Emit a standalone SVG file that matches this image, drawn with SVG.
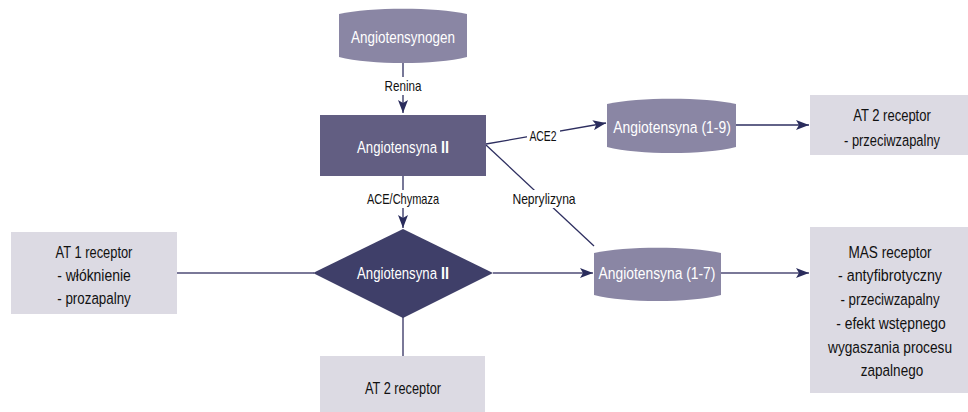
<svg xmlns="http://www.w3.org/2000/svg" width="968" height="412" viewBox="0 0 968 412">
<style>
text{font-family:"Liberation Sans",Arial,sans-serif;text-anchor:middle;}
.nl{fill:#ffffff;font-size:17px;}
.st{text-anchor:start;}
.b{font-weight:bold;}
.lb{fill:#111111;font-size:14.5px;}
.rt{fill:#111111;font-size:17px;}
.soft{fill:#8a86a4;}
.rect2{fill:#625e82;}
.dia{fill:#3f3f69;}
.rec{fill:#dcdae3;}
.dark{stroke:#2e2f60;stroke-width:1.3;fill:none;}
.grey{stroke:#7a7898;stroke-width:2;fill:none;}
.lbg{fill:#ffffff;}
</style>
<defs>
<marker id="ah" markerWidth="14" markerHeight="10" refX="13" refY="5" orient="auto" markerUnits="userSpaceOnUse">
<path d="M0,0 L13,5 L0,10 L3,5 Z" fill="#2a2c5c"/>
</marker>
</defs>
<g id="connectors">
<line class="dark" x1="403" y1="63" x2="403" y2="113" marker-end="url(#ah)"/>
<line class="dark" x1="403" y1="176" x2="403" y2="228" marker-end="url(#ah)"/>
<line class="dark" x1="486" y1="144" x2="606" y2="123" marker-end="url(#ah)"/>
<line class="dark" x1="486" y1="145" x2="594" y2="246"/>
<line class="dark" x1="736" y1="125" x2="809" y2="125" marker-end="url(#ah)"/>
<line class="grey" x1="177" y1="273" x2="314" y2="273"/>
<line class="grey" x1="493" y1="273" x2="593" y2="273" marker-end="url(#ah)"/>
<line class="grey" x1="721" y1="273" x2="809" y2="273" marker-end="url(#ah)"/>
<line class="grey" x1="403" y1="317" x2="403" y2="356"/>
<rect class="lbg" x="382" y="77" width="42" height="18"/>
<text class="lb" transform="translate(403,91) scale(0.8,1)" textLength="46" lengthAdjust="spacingAndGlyphs">Renina</text>
<rect class="lbg" x="527" y="127" width="33" height="18"/>
<text class="lb" transform="translate(543,141) scale(0.8,1)" textLength="34" lengthAdjust="spacingAndGlyphs">ACE2</text>
<rect class="lbg" x="364" y="190" width="78" height="18"/>
<text class="lb" transform="translate(403,204) scale(0.8,1)" textLength="90" lengthAdjust="spacingAndGlyphs">ACE/Chymaza</text>
<rect class="lbg" x="510" y="190" width="69" height="18"/>
<text class="lb" transform="translate(544,204) scale(0.8,1)" textLength="79" lengthAdjust="spacingAndGlyphs">Neprylizyna</text>
</g>
<g id="angiotensynogen">
<path class="soft" d="M339,14 C371,7 435,7 467,14 L467,57 C435,65 371,65 339,57 Z"/>
<text class="nl" transform="translate(403,43) scale(0.8,1)" textLength="130" lengthAdjust="spacingAndGlyphs">Angiotensynogen</text>
</g>
<g id="angiotensyna2-rect">
<rect class="rect2" x="320" y="115" width="166" height="61"/>
<text class="nl st" transform="translate(357,153) scale(0.8,1)" textLength="100" lengthAdjust="spacingAndGlyphs">Angiotensyna</text>
<text class="nl st b" transform="translate(441,153) scale(0.8,1)" textLength="10" lengthAdjust="spacingAndGlyphs">II</text>
</g>
<g id="angiotensyna19">
<path class="soft" d="M607,104 C639,97 704,97 736,104 L736,147 C704,155 639,155 607,147 Z"/>
<text class="nl" transform="translate(672,133) scale(0.8,1)" textLength="147" lengthAdjust="spacingAndGlyphs">Angiotensyna (1-9)</text>
</g>
<g id="at2-top">
<rect class="rec" x="810" y="95" width="158" height="60"/>
<text class="rt" transform="translate(892,121) scale(0.8,1)" textLength="97" lengthAdjust="spacingAndGlyphs">AT 2 receptor</text>
<text class="rt" transform="translate(892,146) scale(0.8,1)" textLength="120" lengthAdjust="spacingAndGlyphs">- przeciwzapalny</text>
</g>
<g id="at1">
<rect class="rec" x="11" y="232" width="166" height="82"/>
<text class="rt" transform="translate(94,258) scale(0.8,1)" textLength="96" lengthAdjust="spacingAndGlyphs">AT 1 receptor</text>
<text class="rt" transform="translate(94,281) scale(0.8,1)" textLength="92" lengthAdjust="spacingAndGlyphs">- włóknienie</text>
<text class="rt" transform="translate(94,304) scale(0.8,1)" textLength="92" lengthAdjust="spacingAndGlyphs">- prozapalny</text>
</g>
<g id="angiotensyna2-diamond">
<path class="dia" d="M403,229 L493,273 L403,318 L313,273 Z"/>
<text class="nl st" transform="translate(357,279) scale(0.8,1)" textLength="100" lengthAdjust="spacingAndGlyphs">Angiotensyna</text>
<text class="nl st b" transform="translate(441,279) scale(0.8,1)" textLength="10" lengthAdjust="spacingAndGlyphs">II</text>
</g>
<g id="angiotensyna17">
<path class="soft" d="M594,253 C626,246 689,246 721,253 L721,295 C689,303 626,303 594,295 Z"/>
<text class="nl" transform="translate(657,279) scale(0.8,1)" textLength="146" lengthAdjust="spacingAndGlyphs">Angiotensyna (1-7)</text>
</g>
<g id="mas">
<rect class="rec" x="810" y="227" width="158" height="166"/>
<text class="rt" transform="translate(890,258) scale(0.8,1)" textLength="104" lengthAdjust="spacingAndGlyphs">MAS receptor</text>
<text class="rt" transform="translate(890,281) scale(0.8,1)" textLength="130" lengthAdjust="spacingAndGlyphs">- antyfibrotyczny</text>
<text class="rt" transform="translate(890,305) scale(0.8,1)" textLength="124" lengthAdjust="spacingAndGlyphs">- przeciwzapalny</text>
<text class="rt" transform="translate(891,329) scale(0.8,1)" textLength="137" lengthAdjust="spacingAndGlyphs">- efekt wstępnego</text>
<text class="rt" transform="translate(890,353) scale(0.8,1)" textLength="155" lengthAdjust="spacingAndGlyphs">wygaszania procesu</text>
<text class="rt" transform="translate(892,376) scale(0.8,1)" textLength="78" lengthAdjust="spacingAndGlyphs">zapalnego</text>
</g>
<g id="at2-bottom">
<rect class="rec" x="320" y="356" width="165" height="56"/>
<text class="rt" transform="translate(403,394) scale(0.8,1)" textLength="95" lengthAdjust="spacingAndGlyphs">AT 2 receptor</text>
</g>
</svg>
